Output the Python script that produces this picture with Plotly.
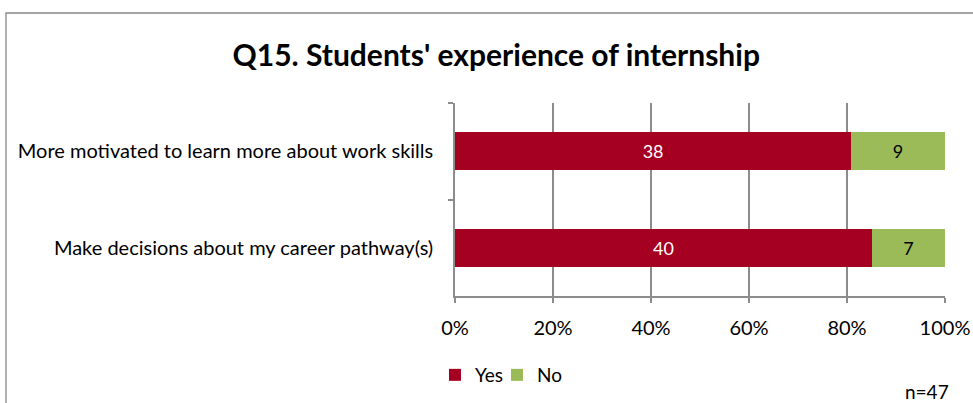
import plotly.graph_objects as go

categories = ["More motivated to learn more about work skills",
              "Make decisions about my career pathway(s)"]
yes_counts = [38, 40]
no_counts = [9, 7]
x_ticks = [0, 20, 40, 60, 80, 100]
x_tick_labels = ["0%", "20%", "40%", "60%", "80%", "100%"]
title_text = "Q15. Students' experience of internship"
note_text = "n=47"

FONT = "Lato"
RED = "#A50021"
GREEN = "#9BBB59"
GRID = "#8C8C8C"

W, H = 973, 403
L, R, T, B = 455, 28, 103, 107
pw, ph = W - L - R, H - T - B

def px_x(x):
    return (x - L) / pw

def px_y(y):
    return (H - B - y) / ph

fig = go.Figure()
fig.add_trace(go.Bar(
    y=categories, x=yes_counts, name="Yes", orientation="h",
    marker=dict(color=RED, line=dict(width=0)),
    text=yes_counts, textposition="inside", insidetextanchor="middle",
    textfont=dict(color="white", size=18, family=FONT),
    legend="legend",
))
fig.add_trace(go.Bar(
    y=categories, x=no_counts, name="No", orientation="h",
    marker=dict(color=GREEN, line=dict(width=0)),
    text=no_counts, textposition="inside", insidetextanchor="middle",
    textfont=dict(color="black", size=18, family=FONT),
    legend="legend2",
))

leg_common = dict(orientation="h", xanchor="left", y=px_y(375), yanchor="middle",
                  font=dict(size=19, family=FONT), itemwidth=30,
                  bgcolor="rgba(0,0,0,0)")

fig.update_layout(
    barmode="stack", barnorm="percent", bargap=0.61,
    width=W, height=H,
    margin=dict(l=L, r=R, t=T, b=B, autoexpand=False),
    paper_bgcolor="white", plot_bgcolor="white",
    font=dict(family=FONT, size=20, color="black"),
    title=dict(text="<b>" + title_text + "</b>", x=0.51, xanchor="center",
               y=1 - 55 / H, yanchor="middle", yref="container",
               font=dict(size=30, family=FONT, color="black")),
    uniformtext=dict(mode="show", minsize=10),
    showlegend=True,
    legend=dict(x=px_x(435), **leg_common),
    legend2=dict(x=px_x(497), **leg_common),
)

fig.update_xaxes(
    range=[0, 100], tickvals=x_ticks, ticktext=x_tick_labels,
    showgrid=True, gridcolor=GRID, gridwidth=1.6,
    showline=True, linecolor=GRID, linewidth=1.6,
    ticks="outside", ticklen=5, tickcolor=GRID, tickwidth=1.6,
    tickfont=dict(size=20, family=FONT), ticklabelstandoff=8,
    zeroline=False, fixedrange=True,
)
fig.update_yaxes(
    autorange="reversed",
    showline=True, linecolor=GRID, linewidth=1.6,
    ticks="outside", ticklen=5, tickcolor=GRID, tickwidth=1.6,
    tickson="boundaries", showgrid=False,
    tickfont=dict(size=20, family=FONT), ticklabelstandoff=16,
    fixedrange=True,
)

# chart border (extends beyond visible page on the right and bottom)
fig.add_shape(type="rect", xref="paper", yref="paper",
              x0=px_x(6), x1=px_x(990), y0=px_y(420), y1=px_y(13),
              line=dict(color="#888888", width=1.3), fillcolor="rgba(0,0,0,0)",
              layer="below")

fig.add_annotation(text=note_text, xref="paper", yref="paper",
                   x=px_x(951), y=px_y(391), xanchor="right", yanchor="middle",
                   showarrow=False, font=dict(size=19, family=FONT, color="black"))

fig.write_html("out.html", config={"displayModeBar": False},
               post_script="document.body.style.margin='0';document.body.style.overflow='hidden';")
